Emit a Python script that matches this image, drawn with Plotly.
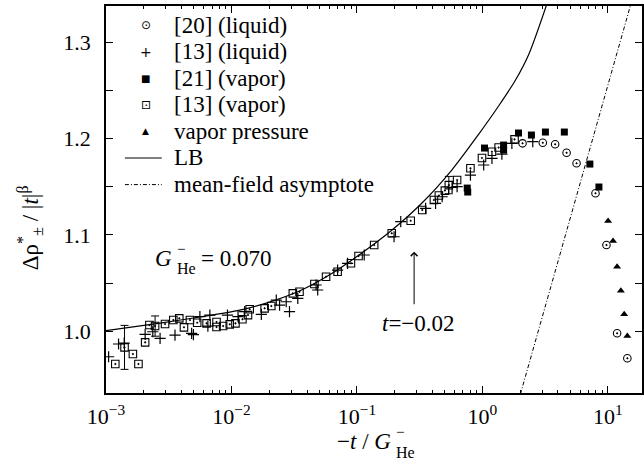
import plotly.graph_objects as go

# ---------------- data ----------------
liq20_x = [2.09, 3.03, 3.80, 4.69, 5.63, 7.97, 9.75, 11.85, 14.3]
liq20_y = [1.1950, 1.1956, 1.1940, 1.1852, 1.1743, 1.1432, 1.0895, 0.9980, 0.9721]

liq13_x = [1.049e-3, 1.259e-3, 1.397e-3, 2.051e-3, 2.360e-3, 2.698e-3, 3.548e-3, 4.814e-3,
           4.975e-3, 5.602e-3, 6.486e-3, 6.727e-3, 9.296e-3, 1.128e-2, 1.275e-2, 1.730e-2,
           2.276e-2, 2.417e-2, 2.732e-2, 2.901e-2, 3.378e-2, 4.728e-2, 4.868e-2, 7.015e-2,
           8.42e-2, 0.1143, 0.1977, 0.2235, 0.3528, 0.4236, 0.4780, 0.5737, 0.6286, 0.8030,
           1.024, 1.192, 1.431, 1.718, 2.521]
liq13_y = [0.9737, 0.9869, 0.9879, 0.9969, 0.9996, 0.9928, 0.9962, 0.9980, 0.9967, 1.0152,
           1.0055, 1.0169, 1.0169, 1.0152, 1.0204, 1.0177, 1.0325, 1.0273, 1.0307, 1.0204,
           1.0343, 1.0481, 1.0429, 1.0636, 1.0706, 1.0792, 1.0981, 1.1139, 1.1276, 1.1328,
           1.1396, 1.1494, 1.1500, 1.1621, 1.1725, 1.1794, 1.1839, 1.1950, 1.1967]

vap21_x = [0.757, 0.764, 1.04, 1.476, 1.476, 1.94, 2.46, 3.18, 4.50, 7.19, 8.49]
vap21_y = [1.1486, 1.1445, 1.1901, 1.1932, 1.1881, 1.2057, 1.2036, 1.2067, 1.2067, 1.1735, 1.1497]

vap13_x = [1.186e-3, 1.405e-3, 1.638e-3, 1.814e-3, 2.051e-3, 2.218e-3, 2.462e-3, 2.955e-3,
           3.440e-3, 3.838e-3, 4.182e-3, 4.667e-3, 5.333e-3, 6.334e-3, 7.603e-3, 7.603e-3,
           8.58e-3, 9.69e-3, 1.076e-2, 1.223e-2, 1.354e-2, 1.397e-2, 1.838e-2, 2.077e-2,
           3.083e-2, 3.485e-2, 4.583e-2, 5.675e-2, 7.015e-2, 8.96e-2, 0.1030, 0.1372, 0.1895,
           0.2683, 0.3316, 0.4108, 0.4500, 0.5022, 0.5402, 0.6286, 0.8030, 0.9927, 1.192,
           1.347, 1.804]
vap13_y = [0.9661, 0.9834, 0.9765, 0.9661, 0.9886, 1.0066, 1.0055, 1.0076, 1.0118, 1.0135,
           1.0042, 1.0118, 1.0090, 1.0083, 1.0097, 1.0045, 1.0055, 1.0073, 1.0083, 1.0125,
           1.0169, 1.0229, 1.0239, 1.0263, 1.0394, 1.0411, 1.0491, 1.0567, 1.0618, 1.0706,
           1.0781, 1.0895, 1.1017, 1.1147, 1.1258, 1.1362, 1.1409, 1.1460, 1.1517, 1.1569,
           1.1691, 1.1798, 1.1863, 1.1906, 1.1991]
vap13_err = [0, 0.0228, 0, 0, 0, 0, 0.0105, 0, 0, 0, 0, 0, 0, 0, 0, 0, 0, 0, 0, 0, 0, 0, 0,
             0, 0, 0, 0, 0, 0, 0, 0, 0, 0, 0, 0, 0, 0, 0, 0.009, 0, 0, 0, 0, 0, 0]

vpress_x = [10.05, 11.0, 11.85, 12.7, 13.5, 14.3]
vpress_y = [1.1144, 1.0937, 1.0670, 1.0422, 1.0177, 0.9952]

lb_x = [1e-3, 2.70e-3, 5.60e-3, 1.164e-2, 2.01e-2, 3.48e-2, 6.02e-2, 0.104, 0.1905,
        0.330, 0.570, 0.936, 1.347, 1.837, 2.331, 3.236]
lb_y = [1.0007, 1.0086, 1.0149, 1.0221, 1.0304, 1.0418, 1.0584, 1.0792, 1.1051,
        1.1331, 1.1673, 1.2046, 1.2337, 1.2606, 1.2866, 1.3379]

mf_x = [2.01, 3.27, 5.53, 9.35, 15.3]
mf_y = [0.935, 1.0324, 1.137, 1.2415, 1.340]

x_major = [1e-3, 1e-2, 1e-1, 1e0, 1e1]
x_major_text = ["10<sup>\u22123</sup>", "10<sup>\u22122</sup>", "10<sup>\u22121</sup>",
                "10<sup>0</sup>", "10<sup>1</sup>"]
y_ticks = [1.0, 1.05, 1.1, 1.15, 1.2, 1.25, 1.3]
y_tick_text = ["1.0", "", "1.1", "", "1.2", "", "1.3"]

legend_labels = ["[20] (liquid)", "[13] (liquid)", "[21] (vapor)", "[13] (vapor)",
                 "vapor pressure", "LB", "mean-field asymptote"]

# ---------------- layout helpers ----------------
W, H = 644, 470
ML, MR, MT, MB = 106, 0, 6, 77
PW, PH = W - ML - MR, H - MT - MB
SERIF = "Liberation Serif"


def xp(px):
    return (px - ML) / PW


def yp(py):
    return (H - MB - py) / PH


def txt(px, py, text, size=23, xa="center", ya="middle", family=SERIF, **kw):
    d = dict(xref="paper", yref="paper", x=xp(px), y=yp(py), text=text, showarrow=False,
             xanchor=xa, yanchor=ya, font=dict(family=family, size=size, color="black"))
    d.update(kw)
    return d


minor_x = [k * 10.0 ** e for e in range(-3, 2) for k in range(2, 10)]

fig = go.Figure()

fig.add_trace(go.Scatter(x=lb_x, y=lb_y, mode="lines", name="LB",
                         line=dict(color="black", width=1.2, shape="spline", smoothing=0.8)))
fig.add_trace(go.Scatter(x=mf_x, y=mf_y, mode="lines", name="mean-field asymptote",
                         line=dict(color="black", width=1, dash="4px,2px,1px,2px")))

fig.add_trace(go.Scatter(x=liq13_x, y=liq13_y, mode="markers", name="[13] (liquid)",
                         marker=dict(symbol="cross-thin", size=8, color="black",
                                     line=dict(width=1.2, color="black"))))
fig.add_trace(go.Scatter(x=vap13_x, y=vap13_y, mode="markers", name="[13] (vapor)",
                         marker=dict(symbol="square-open-dot", size=7.5, color="black",
                                     line=dict(width=1.1, color="black"))))
err_idx = [i for i, e in enumerate(vap13_err) if e > 0]
fig.add_trace(go.Scatter(x=[vap13_x[i] for i in err_idx], y=[vap13_y[i] for i in err_idx],
                         mode="markers", showlegend=False, hoverinfo="skip",
                         marker=dict(size=1, color="rgba(0,0,0,0)"),
                         error_y=dict(type="data", array=[vap13_err[i] for i in err_idx],
                                      color="black", thickness=1, width=4)))
fig.add_trace(go.Scatter(x=vap21_x, y=vap21_y, mode="markers", name="[21] (vapor)",
                         marker=dict(symbol="square", size=7, color="black")))
fig.add_trace(go.Scatter(x=liq20_x, y=liq20_y, mode="markers", name="[20] (liquid)",
                         marker=dict(symbol="circle-open-dot", size=7.5, color="black",
                                     line=dict(width=1.1, color="black"))))
fig.add_trace(go.Scatter(x=vpress_x, y=vpress_y, mode="markers", name="vapor pressure",
                         marker=dict(symbol="triangle-up", size=7, color="black")))

fig.update_xaxes(type="log", range=[-3, 1.2722], showline=True, linewidth=1.5,
                 linecolor="black", mirror="ticks", ticks="inside", ticklen=7, tickwidth=1,
                 tickcolor="black", tickmode="array", tickvals=x_major, ticktext=x_major_text,
                 tickfont=dict(family=SERIF, size=22, color="black"), ticklabelstandoff=3,
                 minor=dict(tickmode="array", tickvals=minor_x, ticks="inside", ticklen=3.5,
                            tickwidth=1, tickcolor="black", showgrid=False),
                 showgrid=False, zeroline=False)
fig.update_yaxes(range=[0.9361, 1.3374], showline=True, linewidth=1.5, linecolor="black",
                 mirror="ticks", ticks="inside", ticklen=7, tickwidth=1, tickcolor="black",
                 tickmode="array", tickvals=y_ticks, ticktext=y_tick_text,
                 tickfont=dict(family=SERIF, size=22, color="black"), ticklabelstandoff=9,
                 showgrid=False, zeroline=False)

ann = []
shapes = []
# manual legend (layout decoration)
row_y = [25 + 26.6 * i for i in range(7)]
glyphs = [("\u2299", 12), ("+", 14), ("\u25A0", 10), ("\u22A1", 12), ("\u25B2", 9)]
for i, lab in enumerate(legend_labels):
    ann.append(txt(172, row_y[i], lab, xa="left"))
    if i < 5:
        g, s = glyphs[i]
        ann.append(txt(146, row_y[i], g, size=s, family="DejaVu Sans"))
shapes.append(dict(type="line", xref="paper", yref="paper", x0=xp(125), x1=xp(162),
                   y0=yp(row_y[5]), y1=yp(row_y[5]), line=dict(color="black", width=1.2)))
shapes.append(dict(type="line", xref="paper", yref="paper", x0=xp(125), x1=xp(162),
                   y0=yp(row_y[6]), y1=yp(row_y[6]),
                   line=dict(color="black", width=1, dash="4px,2px,1px,2px")))

# G_He^- = 0.070  (stacked super/subscript built from pieces)
ann.append(txt(174, 258, "<i>G</i>", xa="right"))
ann.append(txt(175, 249, "\u2212", size=15, xa="left"))
ann.append(txt(175, 268, "He", size=16, xa="left"))
ann.append(txt(199, 258, "= 0.070", xa="left"))

# arrow t = -0.02
ann.append(dict(x=-0.5441, y=1.0826, xref="x", yref="y", text="", showarrow=True,
                ax=0, ay=54, arrowhead=4, arrowsize=1.3, arrowwidth=1, arrowcolor="black"))
ann.append(txt(420, 323, "<i>t</i>=\u22120.02"))

# x title
ann.append(txt(394, 441, "\u2212<i>t</i> / <i>G</i>", xa="right"))
ann.append(txt(395, 432, "\u2212", size=15, xa="left"))
ann.append(txt(395, 452, "He", size=16, xa="left"))

# y title
ann.append(txt(29, 228, "\u0394\u03c1<sup>*</sup><sub>\u00b1</sub> / |<i>t</i>|<sup>\u03b2</sup>",
               textangle=-90))

fig.update_layout(width=W, height=H, margin=dict(l=ML, r=MR, t=MT, b=MB),
                  plot_bgcolor="white", paper_bgcolor="white", showlegend=False,
                  font=dict(family=SERIF),
                  annotations=ann, shapes=shapes)

fig.write_html("out.html")
